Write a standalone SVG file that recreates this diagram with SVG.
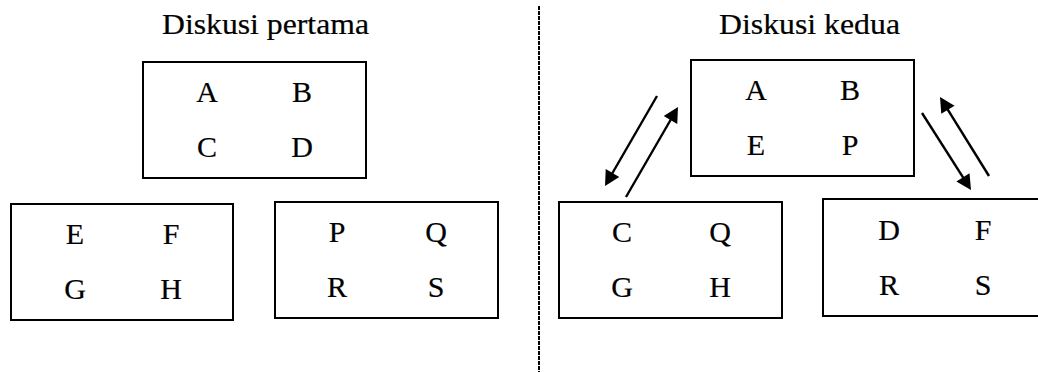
<svg xmlns="http://www.w3.org/2000/svg" width="1038" height="372" viewBox="0 0 1038 372">
  <style>
    .box { fill: none; stroke: #000; stroke-width: 2; }
    .lbl { font-family: "Liberation Serif", "Times New Roman", serif; font-size: 30px; fill: #000; stroke: #000; stroke-width: 0.2; text-anchor: middle; }
    .ttl { font-family: "Liberation Serif", "Times New Roman", serif; font-size: 29px; fill: #000; stroke: #000; stroke-width: 0.2; }
    .shaft { stroke: #000; stroke-width: 2.4; fill: none; }
    .divider { stroke: #000; stroke-width: 2; stroke-dasharray: 4 1; }
  </style>
  <defs>
    <!-- arrowhead with its tip at the origin, pointing along +x -->
    <path id="head" d="M0,0 L-15,-7.8 L-15,7.8 Z" fill="#000"/>
  </defs>
  <rect width="1038" height="372" fill="#fff"/>

  <!-- centre divider -->
  <line class="divider" x1="539" y1="6" x2="539" y2="372"/>

  <!-- first discussion -->
  <text class="ttl" x="162" y="34" textLength="207" lengthAdjust="spacingAndGlyphs">Diskusi pertama</text>

  <g id="p1-top">
    <rect class="box" x="143" y="62" width="223" height="116"/>
    <text class="lbl" x="207" y="102">A</text>
    <text class="lbl" x="302" y="102">B</text>
    <text class="lbl" x="207" y="157">C</text>
    <text class="lbl" x="302" y="157">D</text>
  </g>
  <g id="p1-left">
    <rect class="box" x="11" y="204" width="222" height="116"/>
    <text class="lbl" x="75" y="244">E</text>
    <text class="lbl" x="171" y="244">F</text>
    <text class="lbl" x="75" y="299">G</text>
    <text class="lbl" x="171" y="299">H</text>
  </g>
  <g id="p1-right">
    <rect class="box" x="275" y="202" width="223" height="116"/>
    <text class="lbl" x="337" y="242">P</text>
    <text class="lbl" x="436" y="242">Q</text>
    <text class="lbl" x="337" y="297">R</text>
    <text class="lbl" x="436" y="297">S</text>
  </g>

  <!-- second discussion -->
  <text class="ttl" x="719" y="34" textLength="181" lengthAdjust="spacingAndGlyphs">Diskusi kedua</text>

  <g id="p2-top">
    <rect class="box" x="691" y="60" width="223" height="116"/>
    <text class="lbl" x="756" y="100">A</text>
    <text class="lbl" x="850" y="100">B</text>
    <text class="lbl" x="756" y="155">E</text>
    <text class="lbl" x="850" y="155">P</text>
  </g>
  <g id="p2-left">
    <rect class="box" x="559" y="202" width="223" height="116"/>
    <text class="lbl" x="622" y="242">C</text>
    <text class="lbl" x="720" y="242">Q</text>
    <text class="lbl" x="622" y="297">G</text>
    <text class="lbl" x="720" y="297">H</text>
  </g>
  <g id="p2-right">
    <rect class="box" x="823" y="199" width="230" height="117"/>
    <text class="lbl" x="889" y="240">D</text>
    <text class="lbl" x="983" y="240">F</text>
    <text class="lbl" x="889" y="295">R</text>
    <text class="lbl" x="983" y="295">S</text>
  </g>

  <g id="connectors">
    <!-- top box to left box -->
    <line class="shaft" x1="657" y1="96" x2="609" y2="179"/>
    <use href="#head" transform="translate(605,186) rotate(120)"/>
    <!-- left box to top box -->
    <line class="shaft" x1="626" y1="197" x2="674" y2="114"/>
    <use href="#head" transform="translate(678,107) rotate(-60)"/>
    <!-- top box to right box -->
    <line class="shaft" x1="922" y1="113" x2="966.7" y2="183.2"/>
    <use href="#head" transform="translate(971,190) rotate(57.5)"/>
    <!-- right box to top box -->
    <line class="shaft" x1="989" y1="176" x2="944.2" y2="103.8"/>
    <use href="#head" transform="translate(940,97) rotate(-121.8)"/>
  </g>
</svg>
